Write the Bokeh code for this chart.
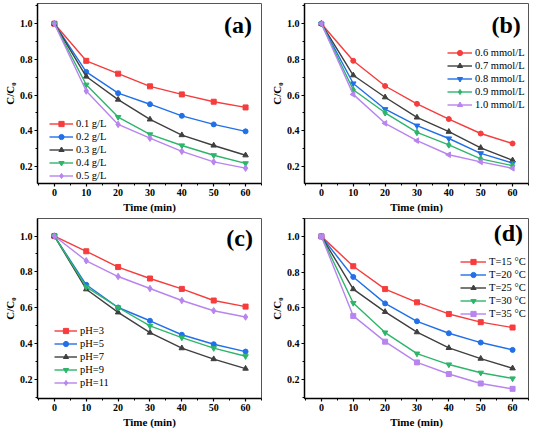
import math
from bokeh.plotting import figure
from bokeh.layouts import gridplot
from bokeh.models import (Range1d, SingleIntervalTicker, Legend, LegendItem,
                          Label, NumeralTickFormatter)
from bokeh.embed import file_html
from bokeh.resources import INLINE

# ---------------- data ----------------
time_min = [0, 10, 20, 30, 40, 50, 60]

labels_a = ["0.1 g/L", "0.2 g/L", "0.3 g/L", "0.4 g/L", "0.5 g/L"]
a_01 = [1.0, 0.792, 0.720, 0.649, 0.604, 0.563, 0.531]
a_02 = [1.0, 0.730, 0.611, 0.549, 0.484, 0.436, 0.397]
a_03 = [1.0, 0.704, 0.575, 0.464, 0.376, 0.318, 0.263]
a_04 = [1.0, 0.658, 0.477, 0.380, 0.318, 0.263, 0.218]
a_05 = [1.0, 0.623, 0.436, 0.359, 0.285, 0.226, 0.191]

labels_b = ["0.6 mmol/L", "0.7 mmol/L", "0.8 mmol/L", "0.9 mmol/L", "1.0 mmol/L"]
b_06 = [1.0, 0.792, 0.651, 0.551, 0.466, 0.385, 0.329]
b_07 = [1.0, 0.711, 0.588, 0.475, 0.395, 0.305, 0.235]
b_08 = [1.0, 0.665, 0.521, 0.429, 0.357, 0.274, 0.219]
b_09 = [1.0, 0.630, 0.501, 0.391, 0.321, 0.243, 0.205]
b_10 = [1.0, 0.604, 0.442, 0.345, 0.266, 0.226, 0.190]

labels_c = ["pH=3", "pH=5", "pH=7", "pH=9", "pH=11"]
c_ph3 = [1.0, 0.915, 0.827, 0.763, 0.705, 0.640, 0.606]
c_ph5 = [1.0, 0.728, 0.601, 0.527, 0.449, 0.396, 0.355]
c_ph7 = [1.0, 0.703, 0.574, 0.461, 0.374, 0.313, 0.260]
c_ph9 = [1.0, 0.716, 0.601, 0.498, 0.433, 0.374, 0.329]
c_ph11 = [1.0, 0.862, 0.774, 0.707, 0.640, 0.583, 0.548]

labels_d = ["T=15 \u00b0C", "T=20 \u00b0C", "T=25 \u00b0C", "T=30 \u00b0C", "T=35 \u00b0C"]
d_15 = [1.0, 0.833, 0.705, 0.631, 0.566, 0.520, 0.490]
d_20 = [1.0, 0.773, 0.625, 0.525, 0.458, 0.406, 0.365]
d_25 = [1.0, 0.705, 0.578, 0.464, 0.376, 0.316, 0.262]
d_30 = [1.0, 0.627, 0.462, 0.344, 0.283, 0.237, 0.205]
d_35 = [1.0, 0.555, 0.411, 0.295, 0.230, 0.177, 0.147]

panel_letters = ["(a)", "(b)", "(c)", "(d)"]

# ---------------- style ----------------
RED = "#f63c3c"
BLUE = "#2170e8"
GRAY = "#3f3f3f"
GREEN = "#2db56a"
PURPLE = "#b884ef"
SERIF = "Liberation Serif"

W, H = 267, 215


def make_panel(series, labels, colors, markers, letter, yr, legend_xy,
               letter_xy, glyph_w):
    p = figure(width=W, height=H, output_backend="svg", toolbar_location=None,
               x_range=Range1d(-5.3, 65), y_range=Range1d(*yr),
               min_border_left=30, min_border_right=6, min_border_top=3,
               min_border_bottom=29)
    p.background_fill_color = "white"
    p.border_fill_color = "white"
    p.outline_line_color = "#555555"
    p.outline_line_width = 1
    p.xgrid.visible = False
    p.ygrid.visible = False

    p.xaxis.ticker = SingleIntervalTicker(interval=10, num_minor_ticks=2)
    p.yaxis.ticker = SingleIntervalTicker(interval=0.2, num_minor_ticks=2)
    p.yaxis.formatter = NumeralTickFormatter(format="0.0")
    for ax in (p.xaxis[0], p.yaxis[0]):
        ax.axis_line_width = 1.5
        ax.axis_line_color = "black"
        ax.major_tick_out = 3
        ax.major_tick_in = 0
        ax.minor_tick_out = 2
        ax.minor_tick_in = 0
        ax.major_tick_line_width = 1.2
        ax.major_tick_line_color = "black"
        ax.minor_tick_line_color = "black"
        ax.major_label_text_font = SERIF
        ax.major_label_text_font_style = "bold"
        ax.major_label_text_font_size = "10px"
        ax.major_label_text_color = "black"
        ax.axis_label_text_font = SERIF
        ax.axis_label_text_font_style = "bold"
        ax.axis_label_text_font_size = "11px"
        ax.axis_label_text_color = "black"
        ax.major_label_standoff = 2
        ax.axis_label_standoff = 2
    p.xaxis.axis_label = "Time (min)"
    p.yaxis.axis_label = "C/C\u2080"
    p.yaxis.axis_label_standoff = 1

    items = []
    for ys, lab, col, mk in zip(series, labels, colors, markers):
        r1 = p.line(time_min, ys, line_color=col, line_width=1.4)
        kw = {}
        shape = mk
        if mk == "tri_left":
            shape = "triangle"
            kw["angle"] = math.pi / 2
        sz = 5 if shape in ("square", "circle") else 5.5
        if shape == "diamond":
            sz = 6.5
        r2 = p.scatter(time_min, ys, marker=shape, size=sz, fill_color=col,
                       line_color=col, **kw)
        items.append(LegendItem(label=lab, renderers=[r1, r2]))

    leg = Legend(items=items, location=legend_xy, margin=0, padding=0,
                 spacing=0, glyph_width=glyph_w, glyph_height=13,
                 label_height=13, label_standoff=3,
                 label_text_font=SERIF, label_text_font_size="10.5px",
                 label_text_color="black",
                 background_fill_alpha=0, border_line_alpha=0)
    p.add_layout(leg, "center")

    p.add_layout(Label(x=letter_xy[0], y=letter_xy[1], text=letter,
                       text_font=SERIF, text_font_style="bold",
                       text_font_size="24px", text_align="right",
                       text_baseline="middle", text_color="black"))
    return p


pa = make_panel([a_01, a_02, a_03, a_04, a_05], labels_a,
                [RED, BLUE, GRAY, GREEN, PURPLE],
                ["square", "circle", "triangle", "inverted_triangle", "diamond"],
                panel_letters[0], (0.105, 1.113), (12, 1), (62.0, 0.99), 24)
pb = make_panel([b_06, b_07, b_08, b_09, b_10], labels_b,
                [RED, GRAY, BLUE, GREEN, PURPLE],
                ["circle", "triangle", "inverted_triangle", "diamond", "tri_left"],
                panel_letters[1], (0.105, 1.113), (143, 72), (62.6, 0.99), 25)
pc = make_panel([c_ph3, c_ph5, c_ph7, c_ph9, c_ph11], labels_c,
                [RED, BLUE, GRAY, GREEN, PURPLE],
                ["square", "circle", "triangle", "inverted_triangle", "diamond"],
                panel_letters[2], (0.093, 1.098), (17, 9), (62.3, 0.99), 23)
pd_ = make_panel([d_15, d_20, d_25, d_30, d_35], labels_d,
                 [RED, BLUE, GRAY, GREEN, PURPLE],
                 ["square", "circle", "triangle", "inverted_triangle", "square"],
                 panel_letters[3], (0.093, 1.1), (156, 78), (63.3, 1.02), 26)

grid = gridplot([[pa, pb], [pc, pd_]], toolbar_location=None)

open("out.html", "w").write(file_html(grid, INLINE))
